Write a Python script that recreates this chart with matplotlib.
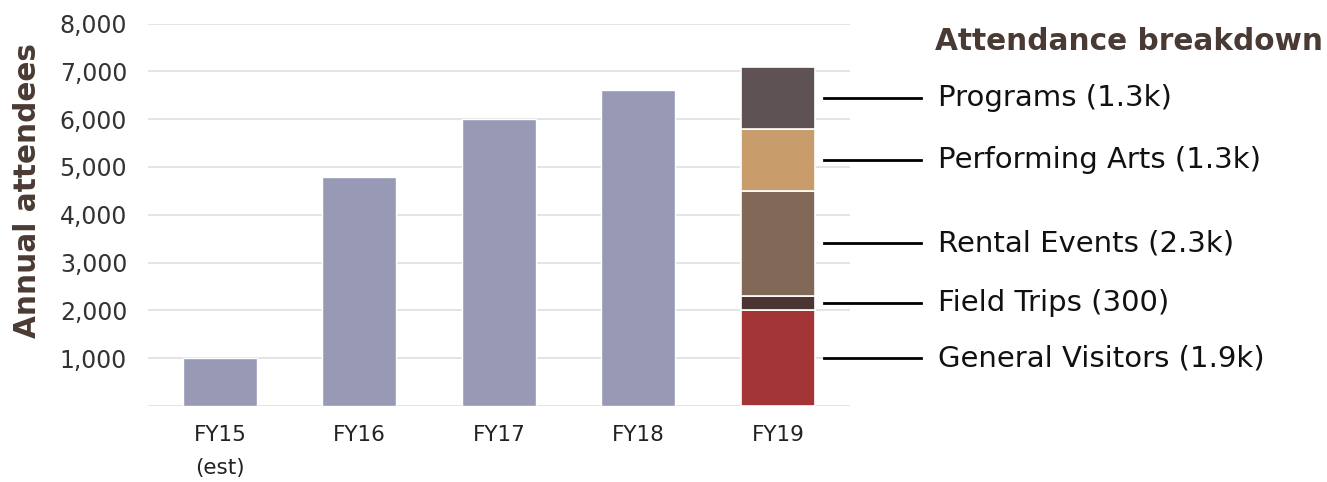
import matplotlib
matplotlib.use("Agg")
import matplotlib.pyplot as plt
import matplotlib.transforms as mtransforms

plt.rcParams['font.family'] = ['DejaVu Sans']

years = ["FY15\n(est)", "FY16", "FY17", "FY18", "FY19"]
totals = [1000, 4800, 6000, 6600]
fy19_segments = ["General Visitors", "Field Trips", "Rental Events", "Performing Arts", "Programs"]
fy19_values = [2000, 300, 2200, 1300, 1300]
fy19_labels = ["General Visitors (1.9k)", "Field Trips (300)", "Rental Events (2.3k)",
               "Performing Arts (1.3k)", "Programs (1.3k)"]
y_ticks = [1000, 2000, 3000, 4000, 5000, 6000, 7000, 8000]

bar_color = "#9899b4"
seg_colors = ["#a33536", "#4a3533", "#826856", "#c89c6b", "#5e5254"]
text_dark = "#4a3a34"

fig = plt.figure(figsize=(13.27, 4.82), dpi=100)
ax = fig.add_axes([0.1115, 0.1577, 0.529, 0.7935])

x = list(range(len(years)))
width = 0.53
ax.bar(x[:4], totals, width=width, color=bar_color, edgecolor="white", linewidth=1, zorder=3)

bottom = 0
mids = []
for v, c in zip(fy19_values, seg_colors):
    ax.bar(x[4], v, width=width, bottom=bottom, color=c, edgecolor="white", linewidth=1.2, zorder=3)
    mids.append(bottom + v / 2)
    bottom += v

ax.set_ylim(0, 8000)
ax.set_xlim(-0.516, 4.516)
ax.set_yticks(y_ticks)
ax.set_yticklabels([f"{t:,}" for t in y_ticks], fontsize=17, color="#333333")
ax.set_xticks(x)
ax.set_xticklabels(years, fontsize=15.5, color="#222222", linespacing=1.8, va="top")
ax.tick_params(axis="both", length=0)
ax.tick_params(axis="y", pad=15)
ax.tick_params(axis="x", pad=14)

for gy in [0] + y_ticks:
    ax.axhline(gy, color="#e4e4e4", linewidth=1.4, zorder=1)

for s in ax.spines.values():
    s.set_visible(False)

trans = mtransforms.blended_transform_factory(ax.transAxes, ax.transData)
for m, lab in zip(mids, fy19_labels):
    ax.plot([0.963, 1.101], [m, m], color="black", linewidth=2, transform=trans, clip_on=False)
    ax.text(1.125, m, lab, transform=trans, fontsize=21, color="#111111", va="center", ha="left")

fig.text(935 / 1327, 1 - 42 / 482, "Attendance breakdown", fontsize=21.3, fontweight="bold",
         color=text_dark, va="center", ha="left")
fig.text(28 / 1327, 1 - 191 / 482, "Annual attendees", fontsize=21.3, fontweight="bold",
         color=text_dark, va="center", ha="center", rotation=90)

fig.savefig("out.png", dpi=100, facecolor="white")
